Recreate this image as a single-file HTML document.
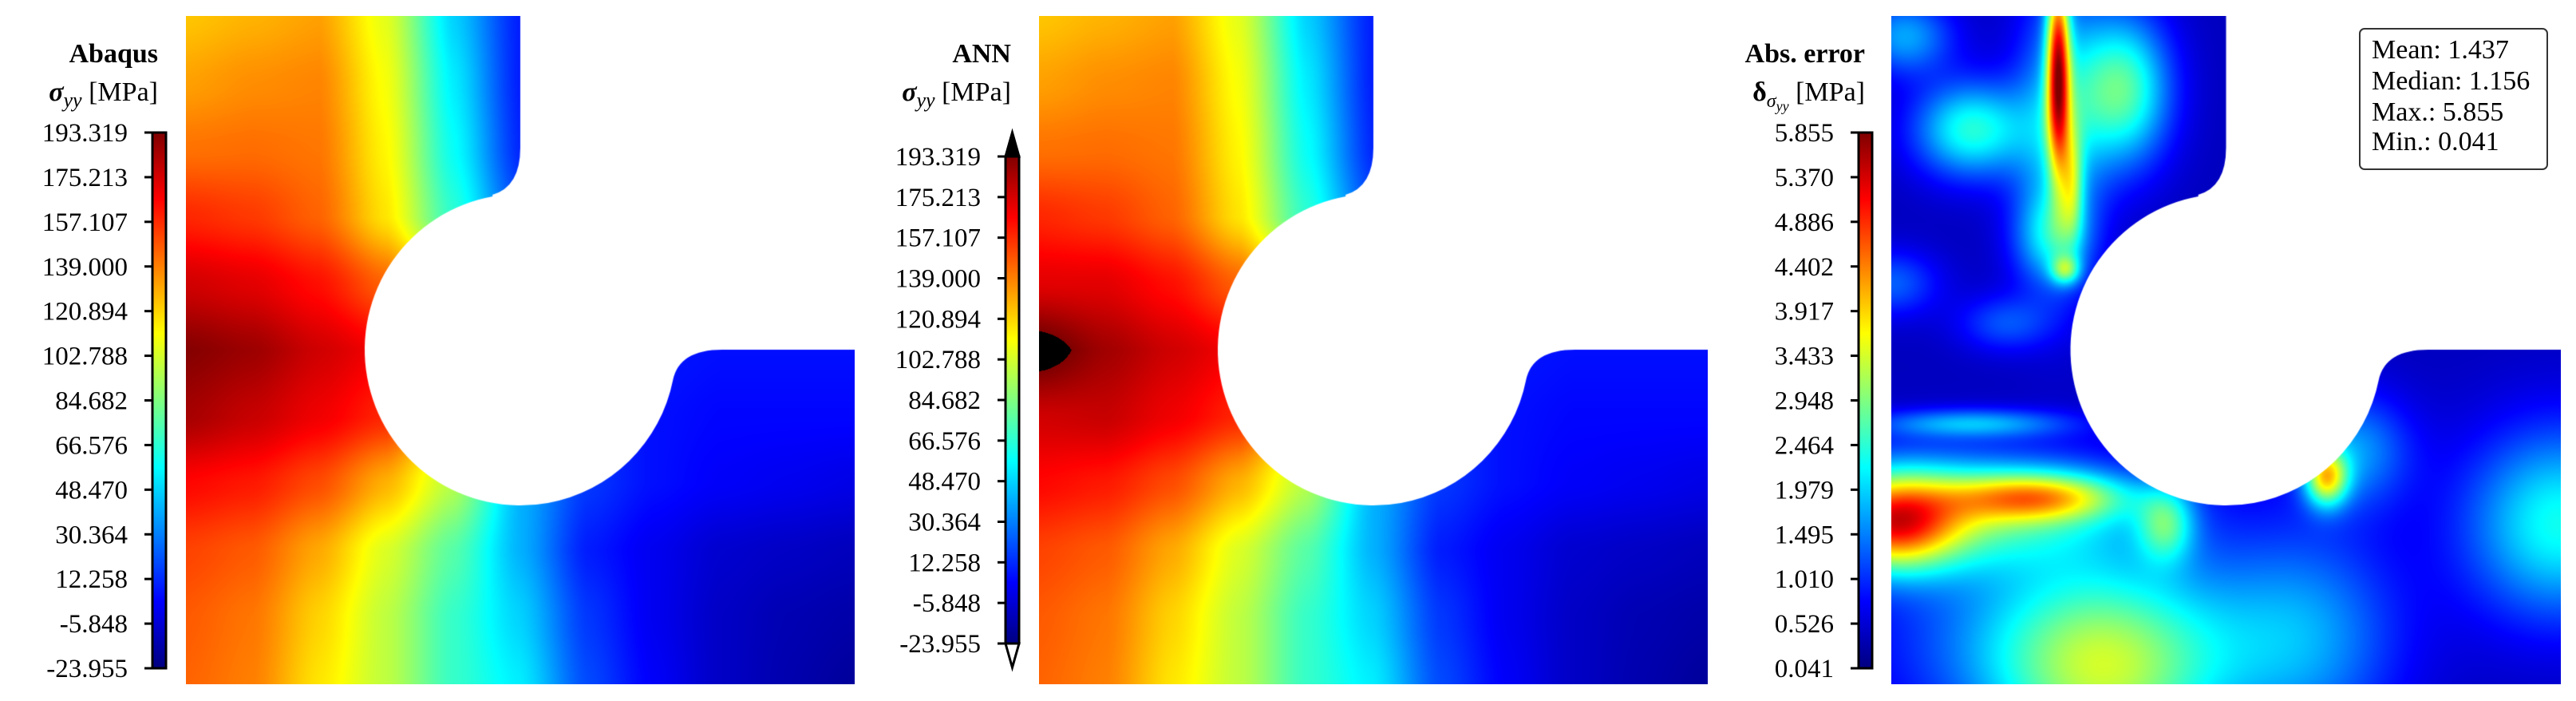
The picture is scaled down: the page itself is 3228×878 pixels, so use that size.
<!DOCTYPE html>
<html><head><meta charset="utf-8">
<style>
html,body{margin:0;padding:0;background:#fff;}
#root{position:relative;width:3228px;height:878px;overflow:hidden;background:#fff;}
canvas{position:absolute;}
svg{position:absolute;left:0;top:0;}
text{font-family:"Liberation Serif",serif;fill:#000;}
</style></head>
<body>
<div id="root">
<canvas id="c1" width="838" height="837" style="left:233px;top:20px"></canvas>
<canvas id="c2" width="838" height="837" style="left:1302px;top:20px"></canvas>
<canvas id="c3" width="839" height="837" style="left:2370px;top:20px"></canvas>
<svg id="ov" width="3228" height="878">
<defs>
<linearGradient id="jet" x1="0" y1="1" x2="0" y2="0">
<stop offset="0" stop-color="#000080"/><stop offset="0.125" stop-color="#0000ff"/>
<stop offset="0.375" stop-color="#00ffff"/><stop offset="0.625" stop-color="#ffff00"/>
<stop offset="0.875" stop-color="#ff0000"/><stop offset="1" stop-color="#800000"/>
</linearGradient>
</defs>
<g>
<text x="198" y="78" text-anchor="end" font-size="34" font-weight="bold">Abaqus</text>
<text x="198" y="126" text-anchor="end" font-size="34"><tspan font-weight="bold" font-style="italic">σ</tspan><tspan font-style="italic" font-size="26" dy="8">yy</tspan><tspan dy="-8"> [MPa]</tspan></text>
</g>
<g>
<text x="1267" y="78" text-anchor="end" font-size="34" font-weight="bold">ANN</text>
<text x="1267" y="126" text-anchor="end" font-size="34"><tspan font-weight="bold" font-style="italic">σ</tspan><tspan font-style="italic" font-size="26" dy="8">yy</tspan><tspan dy="-8"> [MPa]</tspan></text>
</g>
<g>
<text x="2337" y="78" text-anchor="end" font-size="34" font-weight="bold">Abs. error</text>
<text x="2337" y="126" text-anchor="end" font-size="34"><tspan font-weight="bold">δ</tspan><tspan font-style="italic" font-size="24" dy="8">σ</tspan><tspan font-style="italic" font-size="18" dy="5">yy</tspan><tspan dy="-13"> [MPa]</tspan></text>
</g>
<g>
<rect x="2957" y="36" width="235" height="176" rx="6" fill="#fff" stroke="#333" stroke-width="2"/>
<text x="2972" y="73" font-size="34">Mean: 1.437</text>
<text x="2972" y="112" font-size="34">Median: 1.156</text>
<text x="2972" y="151" font-size="34">Max.: 5.855</text>
<text x="2972" y="188" font-size="34">Min.: 0.041</text>
</g>
<g id="cbars"></g>
</svg>
</div>
<script>
// ---------- data ----------
const stressTicks = ["-23.955","-5.848","12.258","30.364","48.470","66.576","84.682","102.788","120.894","139.000","157.107","175.213","193.319"];
const errorTicks = ["0.041","0.526","1.010","1.495","1.979","2.464","2.948","3.433","3.917","4.402","4.886","5.370","5.855"];
const stressMin = -23.955, stressMax = 193.319;
const errMin = 0.041, errMax = 5.855;
// Abaqus sigma_yy on 11x11 grid (rows top->bottom, cols left->right), MPa
const abaqusGrid = [
 [124,128,132,106,48,9,6,6,6,6,6],
 [132,136,138,110,54,9,6,6,6,6,6],
 [142,143,141,113,59,11,8,8,8,8,8],
 [158,154,145,117,67,19,10,8,8,8,8],
 [176,172,163,145,106,41,12,8,8,8,8],
 [192,187,176,167,128,41,15,8,6,6,6],
 [185,178,169,158,110,40,15,6,4,4,4],
 [165,161,150,128,96,41,15,6,2,0,-2],
 [152,147,130,104,76,41,9,0,-7,-9,-11],
 [147,141,121,98,69,48,15,0,-9,-13,-15],
 [145,139,117,98,69,54,19,2,-9,-14,-18]
];
// ANN prediction grid, MPa
const annGrid = [
 [124,128,132,106,48,9,6,6,6,6,6],
 [132,136,138,110,54,9,6,6,6,6,6],
 [142,143,141,113,59,11,8,8,8,8,8],
 [158,154,145,117,67,19,10,8,8,8,8],
 [172,172,163,145,106,41,12,8,8,8,8],
 [200,186,176,167,128,41,15,8,6,6,6],
 [176,178,169,158,110,40,15,6,4,4,4],
 [165,161,150,128,96,41,15,6,2,0,-2],
 [152,147,130,104,76,41,9,0,-7,-9,-11],
 [147,141,121,98,69,48,15,0,-9,-13,-15],
 [145,139,117,98,69,54,19,2,-9,-14,-18]
];
// Abs. error field: base level + hotspots (fractional position, spread, amplitude in MPa)
const errBase = 0.4;
const hotX   = [0.249,0.25,0.345,0.12,0.02,0.26,0.24,0.0,0.17,0.12,0.0,0.22,0.12,0.41,0.65,0.69,0.32,0.28,1.0,0.62,0.27];
const hotY   = [0.08,0.16,0.11,0.17,0.03,0.38,0.33,0.40,0.46,0.61,0.76,0.72,0.74,0.76,0.69,0.65,1.0,0.93,0.76,0.93,0.25];
const hotSX  = [0.012,0.045,0.05,0.06,0.05,0.015,0.04,0.05,0.05,0.1,0.07,0.09,0.17,0.03,0.022,0.06,0.12,0.2,0.1,0.1,0.012];
const hotSY  = [0.11,0.15,0.08,0.05,0.04,0.015,0.05,0.035,0.03,0.015,0.05,0.025,0.06,0.04,0.03,0.06,0.11,0.1,0.1,0.12,0.06];
const hotAmp = [3.9,1.4,2.3,2.0,1.3,1.6,1.3,0.9,0.8,1.3,3.3,2.3,2.1,1.6,2.8,1.2,2.0,1.2,1.9,1.1,1.5];

// ---------- helpers ----------
function jet(t){
  const c=v=>Math.max(0,Math.min(1,v));
  return [c(1.5-Math.abs(4*t-3))*255, c(1.5-Math.abs(4*t-2))*255, c(1.5-Math.abs(4*t-1))*255];
}
function shapePath(ctx,W,H){
  const s=W/838;
  ctx.beginPath();
  ctx.moveTo(0,0); ctx.lineTo(419*s,0); ctx.lineTo(419*s,165);
  ctx.quadraticCurveTo(419*s,214,384*s,224);
  const cx=419*s, cy=418, r=195;
  ctx.arc(cx,cy,r,Math.atan2(224-cy,384*s-cx),Math.atan2(456-cy,609*s-cx),true);
  ctx.quadraticCurveTo(618*s,418,672*s,418);
  ctx.lineTo(W,418); ctx.lineTo(W,H); ctx.lineTo(0,H); ctx.closePath();
}
function gridVal(grid,fx,fy){
  const n=grid[0].length-1, m=grid.length-1;
  let gx=fx*n, gy=fy*m;
  let i=Math.min(n-1,Math.floor(gx)), j=Math.min(m-1,Math.floor(gy));
  let u=gx-i, v=gy-j;
  u=u*u*(3-2*u)*0.5+u*0.5; v=v*v*(3-2*v)*0.5+v*0.5;
  const a=grid[j][i], b=grid[j][i+1], c=grid[j+1][i], d=grid[j+1][i+1];
  return (a*(1-u)+b*u)*(1-v)+(c*(1-u)+d*u)*v;
}
function errVal(fx,fy){
  let v=errBase;
  for(let k=0;k<hotX.length;k++){
    const dx=(fx-hotX[k])/hotSX[k], dy=(fy-hotY[k])/hotSY[k];
    v+=hotAmp[k]*Math.exp(-0.5*(dx*dx+dy*dy));
  }
  return v;
}
function paint(id,fn,vmin,vmax,extend){
  const cv=document.getElementById(id), ctx=cv.getContext('2d');
  const W=cv.width,H=cv.height;
  const img=ctx.createImageData(W,H), d=img.data;
  for(let y=0;y<H;y++){
    for(let x=0;x<W;x++){
      let v=fn(x/(W-1),y/(H-1));
      let col;
      if(extend && v>vmax) col=[0,0,0];
      else if(extend && v<vmin) col=[255,255,255];
      else { v=Math.max(vmin,Math.min(vmax,v)); col=jet((v-vmin)/(vmax-vmin)); }
      const p=(y*W+x)*4;
      d[p]=col[0];d[p+1]=col[1];d[p+2]=col[2];d[p+3]=255;
    }
  }
  const off=document.createElement('canvas'); off.width=W; off.height=H;
  off.getContext('2d').putImageData(img,0,0);
  ctx.save(); shapePath(ctx,W,H); ctx.clip(); ctx.drawImage(off,0,0); ctx.restore();
}
paint('c1',(fx,fy)=>gridVal(abaqusGrid,fx,fy),stressMin,stressMax,false);
paint('c2',(fx,fy)=>gridVal(annGrid,fx,fy),stressMin,stressMax,true);
paint('c3',errVal,errMin,errMax,false);

// ---------- colorbars ----------
const NS='http://www.w3.org/2000/svg';
const g=document.getElementById('cbars');
function el(tag,attrs,parent){const e=document.createElementNS(NS,tag);for(const k in attrs)e.setAttribute(k,attrs[k]);parent.appendChild(e);return e;}
function colorbar(name,x0,top,bot,labels,labelRight,ext){
  const grp=el('g',{},g);
  
  
  const w=17;
  el('rect',{x:x0,y:top,width:w,height:bot-top,fill:'url(#jet)',stroke:'#000','stroke-width':3},grp);
  if(ext){
    const t1=el('path',{d:`M${x0},${top} L${x0+w/2},${top-30} L${x0+w},${top} Z`,fill:'#000',stroke:'#000','stroke-width':3},grp);
    
    
    const t2=el('path',{d:`M${x0},${bot} L${x0+w/2},${bot+30} L${x0+w},${bot} Z`,fill:'#fff',stroke:'#000','stroke-width':3},grp);
    
    
  }
  const n=labels.length;
  for(let i=0;i<n;i++){
    const y=bot-(bot-top)*i/(n-1);
    const tk=el('line',{x1:x0-10,x2:x0,y1:y,y2:y,stroke:'#000','stroke-width':3},grp);
    
    
    const t=el('text',{x:labelRight,y:y+11,'text-anchor':'end','font-size':33},grp);
    
    
    t.textContent=labels[i];
  }
}
colorbar('abaqus-colorbar',191,166,837,stressTicks,160,false);
colorbar('ann-colorbar',1260,196,806,stressTicks,1229,true);
colorbar('error-colorbar',2329,166,837,errorTicks,2298,false);
</script>
</body></html>
